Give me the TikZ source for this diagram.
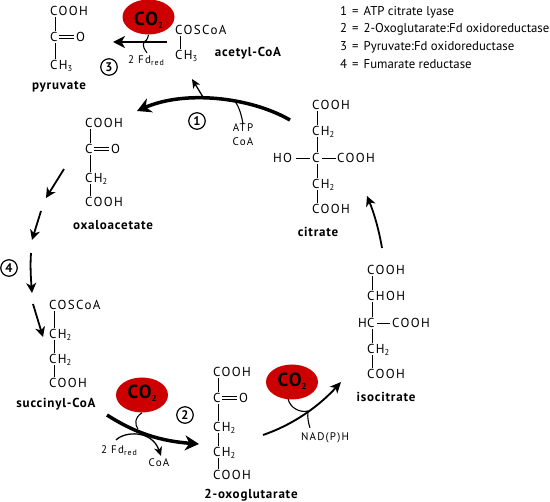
\documentclass[tikz,border=0pt]{standalone}
\usepackage{fontspec}
\usepackage{tikz}
\usetikzlibrary{positioning,calc,arrows.meta,shapes.geometric}
\setmainfont{PT Sans}
\newfontfamily\chemfont[LetterSpace=11]{PT Sans}
\newfontfamily\namefont[LetterSpace=6]{PT Sans Bold}
\newcommand{\subnum}[1]{\raisebox{-2.5pt}{\fontsize{8.5}{9}\selectfont #1}}
\newcommand{\redsub}{\raisebox{-2pt}{\fontsize{8}{8}\selectfont red}}
\definecolor{co2red}{HTML}{CC0000}

\begin{document}
\begin{tikzpicture}[x=1pt,y=-1pt,
  grp/.style={anchor=west,inner sep=0pt,outer sep=0pt,text height=8.7pt,text depth=0pt,font=\fontsize{13}{14}\chemfont},
  cname/.style={inner sep=0pt,font=\fontsize{13}{14}\namefont},
  small/.style={inner sep=0pt,font=\fontsize{11}{13}\chemfont},
  co2/.style={ellipse,fill=co2red,minimum width=52pt,minimum height=35pt,inner sep=0pt},
  co2txt/.style={inner sep=0pt,font=\fontsize{19}{20}\namefont},
  enz/.style={circle,draw,line width=1.2pt,minimum size=16.5pt,inner sep=0pt,font=\fontsize{12.5}{13}\namefont},
  leg/.style={anchor=west,inner sep=0pt,font=\fontsize{12.8}{14}\selectfont},
  bond/.style={line width=0.7pt},
  dbl/.style={line width=0.6pt,double,double distance=2.4pt},
  main/.style={line width=3.5pt,-{Stealth[length=14pt,width=15pt,inset=4.5pt]}},
  med/.style={line width=1.8pt,-{Stealth[length=10pt,width=10pt,inset=3pt]}},
  side/.style={line width=1.1pt},
  sidear/.style={line width=1.3pt,-{Stealth[length=9pt,width=8pt,inset=2.5pt]}}]
  \useasboundingbox (0,0) rectangle (550,502);

  % legend
  \node[leg] (leg1) at (340,12) {1\hspace{5pt}=\hspace{5pt}ATP citrate lyase};
  \node[leg] (leg2) at (340,29.5) {2\hspace{5pt}=\hspace{5pt}2-Oxoglutarate:Fd oxidoreductase};
  \node[leg] (leg3) at (340,47) {3\hspace{5pt}=\hspace{5pt}Pyruvate:Fd oxidoreductase};
  \node[leg] (leg4) at (340,64) {4\hspace{5pt}=\hspace{5pt}Fumarate reductase};

  % pyruvate
  \node[grp] (pyr1) at (50,11) {COOH};
  \node[grp] (pyr2) at (50,37) {C};
  \node[grp] (pyr3) at (76,37) {O};
  \node[grp] (pyr4) at (50,65) {CH\subnum{3}};
  \node[cname] (pyr) at (59,87) {pyruvate};

  % acetyl-CoA
  \node[grp] (ace1) at (175,30) {COSCoA};
  \node[grp] (ace2) at (175,55) {CH\subnum{3}};
  \node[cname] (ace) at (248,53) {acetyl-CoA};
  \node[co2] (co2a) at (148.5,17) {};
  \node[co2txt] (co2atxt) at (148.5,20) {CO\subnum{2}};

  % oxaloacetate
  \node[grp] (oxa1) at (85,123) {COOH};
  \node[grp] (oxa2) at (85,149) {C};
  \node[grp] (oxa3) at (111,149) {O};
  \node[grp] (oxa4) at (85,178) {CH\subnum{2}};
  \node[grp] (oxa5) at (85,202) {COOH};
  \node[cname] (oxa) at (113,225) {oxaloacetate};

  % succinyl-CoA
  \node[grp] (suc1) at (49,305) {COSCoA};
  \node[grp] (suc2) at (49,334) {CH\subnum{2}};
  \node[grp] (suc3) at (49,359) {CH\subnum{2}};
  \node[grp] (suc4) at (49,383) {COOH};
  \node[cname] (suc) at (56,404) {succinyl-CoA};

  % 2-oxoglutarate
  \node[grp] (oxg1) at (213,372) {COOH};
  \node[grp] (oxg2) at (213,398) {C};
  \node[grp] (oxg3) at (239,398) {O};
  \node[grp] (oxg4) at (213,427) {CH\subnum{2}};
  \node[grp] (oxg5) at (213,452) {CH\subnum{2}};
  \node[grp] (oxg6) at (213,475) {COOH};
  \node[cname] (oxg) at (251,495) {2-oxoglutarate};

  % isocitrate
  \node[grp] (iso1) at (367,270) {COOH};
  \node[grp] (iso2) at (367,296) {CHOH};
  \node[grp] (iso3) at (358,323) {H};
  \node[grp] (iso4) at (367,323) {C};
  \node[grp] (iso5) at (392,323) {COOH};
  \node[grp] (iso6) at (367,349) {CH\subnum{2}};
  \node[grp] (iso7) at (367,374) {COOH};
  \node[cname] (iso) at (386,397) {isocitrate};

  % citrate
  \node[grp] (cit1) at (312,105) {COOH};
  \node[grp] (cit2) at (312,131) {CH\subnum{2}};
  \node[grp] (cit3) at (273,158) {HO};
  \node[grp] (cit4) at (312,158) {C};
  \node[grp] (cit5) at (337,158) {COOH};
  \node[grp] (cit6) at (312,184) {CH\subnum{2}};
  \node[grp] (cit7) at (312,209) {COOH};
  \node[cname] (cit) at (318,232) {citrate};

  % vertical bonds
  \foreach \a/\b in {pyr1/pyr2,pyr2/pyr4,ace1/ace2,oxa1/oxa2,oxa2/oxa4,oxa4/oxa5,
    suc1/suc2,suc2/suc3,suc3/suc4,oxg1/oxg2,oxg2/oxg4,oxg4/oxg5,oxg5/oxg6,
    iso1/iso2,iso2/iso4,iso4/iso6,iso6/iso7,cit1/cit2,cit2/cit4,cit4/cit6,cit6/cit7}
    \draw[bond] ([shift={(5,2)}]\a.south west) -- ([shift={(5,-2)}]\b.north west);
  % side bonds
  \draw[dbl] ([xshift=2pt]pyr2.east) -- ([xshift=-2pt]pyr3.west);
  \draw[dbl] ([xshift=2pt]oxa2.east) -- ([xshift=-2pt]oxa3.west);
  \draw[dbl] ([xshift=2pt]oxg2.east) -- ([xshift=-2pt]oxg3.west);
  \draw[bond] ([xshift=3pt]iso4.east) -- ([xshift=-2pt]iso5.west);
  \draw[bond] ([xshift=4pt]cit3.east) -- ([xshift=-2pt]cit4.west);
  \draw[bond] ([xshift=2.5pt]cit4.east) -- ([xshift=-1.5pt]cit5.west);

  % CO2 bubbles
  \node[co2] (co2b) at (142,395) {};
  \node[co2txt] (co2btxt) at (142,393) {CO\subnum{2}};
  \node[co2] (co2c) at (292,382) {};
  \node[co2txt] (co2ctxt) at (292,381) {CO\subnum{2}};

  % enzyme numbers
  \node[enz] (e1) at (197,121) {1};
  \node[enz] (e2) at (185,415) {2};
  \node[enz] (e3) at (109,67) {3};
  \node[enz] (e4) at (9,268) {4};

  % small labels
  \node[small] (fd1) at (146,61) {2 Fd\redsub};
  \node[small] (atp) at (243,128) {ATP};
  \node[small] (coa1) at (243,142) {CoA};
  \node[small] (fd2) at (119,451) {2 Fd\redsub};
  \node[small] (coa2) at (159,463) {CoA};
  \node[small] (nad) at (325,438) {NAD(P)H};

  % free ends of the arrows
  \coordinate (a1s) at (290,120);
  \coordinate (a1e) at (137,111);
  \coordinate (a1m) at (203,97);
  \coordinate (a1t) at (192,79);
  \coordinate (a1j) at (234,100);
  \coordinate (a2s) at (107,415);
  \coordinate (a2e) at (199,444);
  \coordinate (a2m) at (138,429);
  \coordinate (a2f) at (116,440);
  \coordinate (a2t) at (161,456);
  \coordinate (a3s) at (263,435);
  \coordinate (a3e) at (341,382);
  \coordinate (a3m) at (308,411);
  \coordinate (a4s) at (167,42);
  \coordinate (a4e) at (113,42);
  \coordinate (a4m) at (144,42);
  \coordinate (a5s) at (382,248);
  \coordinate (a5e) at (367,196);
  \coordinate (b1s) at (64,169);
  \coordinate (b1e) at (46,198);
  \coordinate (b2s) at (41,211);
  \coordinate (b2e) at (32,240);
  \coordinate (b3s) at (31,253);
  \coordinate (b3e) at (32,293);
  \coordinate (b4s) at (33,304);
  \coordinate (b4e) at (43,337);

  % cycle arrows
  \draw[main] (a1s) .. controls (250,97) and (185,90) .. (a1e);
  \draw[main] (a2s) .. controls (135,433) and (160,441) .. (a2e);
  \draw[line width=1.9pt,-{Stealth[length=11pt,width=10pt,inset=3pt]}] (a3s) .. controls (295,424) and (320,405) .. (a3e);
  \draw[line width=2.2pt,-{Stealth[length=12pt,width=12pt,inset=3.5pt]}] (a4s) -- (a4e);
  \draw[med] (a5s) .. controls (379,230) and (374,213) .. (a5e);
  \draw[med] (b1s) -- (b1e);
  \draw[med] (b2s) -- (b2e);
  \draw[med] (b3s) .. controls (30,266) and (31,280) .. (b3e);
  \draw[med] (b4s) -- (b4e);

  % side branches
  \draw[sidear] (a1m) -- (a1t);
  \draw[side] (atp.north) .. controls (241,112) and (238,105) .. (a1j);
  \draw[side] (co2a.south) .. controls (148,36) and (148,40) .. (a4m)
     .. controls (142,46) and (145,50) .. ($(fd1.north)+(1,-3)$);
  \draw[side] (co2b.south) .. controls (134,418) and (135,425) .. (a2m);
  \draw[sidear] (a2f) .. controls (125,431) and (152,430) .. (a2t);
  \draw[side] ($(co2c.south)+(-4,-1)$) .. controls (290,408) and (300,413) .. (a3m);
  \draw[side] (nad.north) ++(-15,-5) .. controls (309,425) and (307,418) .. (a3m);
\end{tikzpicture}
\end{document}
